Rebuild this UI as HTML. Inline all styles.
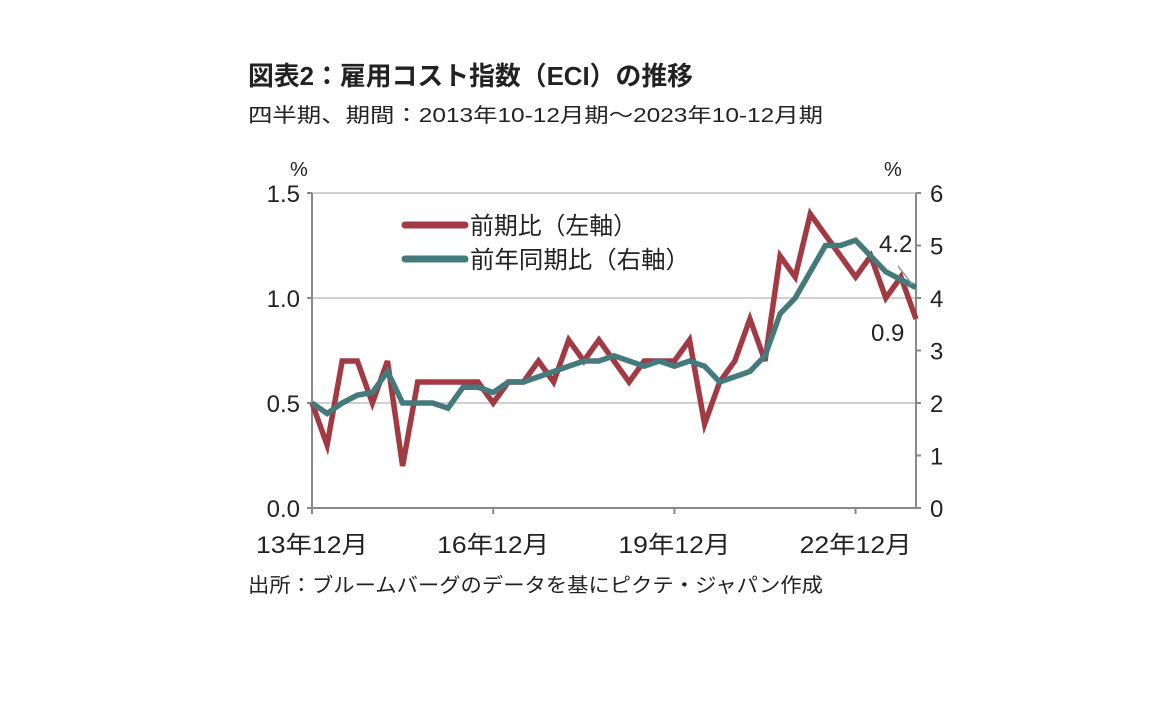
<!DOCTYPE html>
<html><head><meta charset="utf-8"><style>
body{margin:0;background:#fff;font-family:"Liberation Sans","Noto Sans CJK JP",sans-serif;}
svg text{font-family:"Liberation Sans","Noto Sans CJK JP",sans-serif;fill:#222;}
</style></head><body>
<svg id="c" width="1152" height="720">
<text x="248" y="85" font-size="26" font-weight="bold" textLength="445" lengthAdjust="spacingAndGlyphs">図表2：雇用コスト指数（ECI）の推移</text>
<text x="248" y="122" font-size="20" fill="#333" textLength="575" lengthAdjust="spacingAndGlyphs">四半期、期間：2013年10-12月期～2023年10-12月期</text>
<text x="248" y="592" font-size="20" textLength="575" lengthAdjust="spacingAndGlyphs">出所：ブルームバーグのデータを基にピクテ・ジャパン作成</text>
<g id="g"></g>
</svg>
<script>
const categories=["13年12月","16年12月","19年12月","22年12月"];
const categoryIdx=[0,12,24,36];
const leftTicks=[0.0,0.5,1.0,1.5];
const rightTicks=[0,1,2,3,4,5,6];
const qoq=[0.5,0.3,0.7,0.7,0.5,0.7,0.2,0.6,0.6,0.6,0.6,0.6,0.5,0.6,0.6,0.7,0.6,0.8,0.7,0.8,0.7,0.6,0.7,0.7,0.7,0.8,0.4,0.6,0.7,0.9,0.7,1.2,1.1,1.4,1.3,1.2,1.1,1.2,1.0,1.1,0.9];
const yoy=[2.0,1.8,2.0,2.15,2.2,2.6,2.0,2.0,2.0,1.9,2.3,2.3,2.2,2.4,2.4,2.5,2.6,2.7,2.8,2.8,2.9,2.8,2.7,2.8,2.7,2.8,2.7,2.4,2.5,2.6,2.9,3.7,4.0,4.5,5.0,5.0,5.1,4.8,4.5,4.35,4.2];
const x0=312,x1=916,yb=508,yt=193;
const X=i=>x0+(x1-x0)*i/(qoq.length-1);
const YL=v=>yb-(yb-yt)*v/1.5;
const YR=v=>yb-(yb-yt)*v/6;
const g=document.getElementById('g');
const NS='http://www.w3.org/2000/svg';
function mk(t,a,txt){const e=document.createElementNS(NS,t);for(const k in a)e.setAttribute(k,a[k]);if(txt!==undefined)e.textContent=txt;g.appendChild(e);return e;}
leftTicks.forEach(v=>{
 if(v>0){const l=mk('line',{x1:x0,x2:x1,y1:YL(v),y2:YL(v),stroke:'#d0d0d0','stroke-width':2});
 
 }
 const t=mk('text',{x:x0-12,y:YL(v)+9,'font-size':24,'text-anchor':'end'},v.toFixed(1));
 
 
 mk('line',{x1:x0-5,x2:x0,y1:YL(v),y2:YL(v),stroke:'#888','stroke-width':2});
});
rightTicks.forEach(v=>{
 const t=mk('text',{x:x1+14,y:YR(v)+9,'font-size':24},String(v));
 
 
 mk('line',{x1:x1,x2:x1+5,y1:YR(v),y2:YR(v),stroke:'#888','stroke-width':2});
});
mk('line',{x1:x0,x2:x0,y1:yt,y2:yb,stroke:'#888','stroke-width':2});
mk('line',{x1:x1,x2:x1,y1:yt,y2:yb,stroke:'#888','stroke-width':2});
mk('line',{x1:x0,x2:x1,y1:yb,y2:yb,stroke:'#888','stroke-width':2});
const pl=mk('text',{x:290,y:176,'font-size':20},'%');


const pr=mk('text',{x:884,y:176,'font-size':20},'%');


categories.forEach((c,k)=>{
 const x=X(categoryIdx[k]);
 mk('line',{x1:x,x2:x,y1:yb,y2:yb+6,stroke:'#888','stroke-width':2});
 const t=mk('text',{x:x-56,y:yb+45,'font-size':24,textLength:112,lengthAdjust:'spacingAndGlyphs'},c);
 
 
});
const r=mk('polyline',{points:qoq.map((v,i)=>X(i)+','+YL(v)).join(' '),fill:'none',stroke:'#a23a43','stroke-width':5.5,'stroke-linejoin':'miter'});


const b=mk('polyline',{points:yoy.map((v,i)=>X(i)+','+YR(v)).join(' '),fill:'none',stroke:'#457a7d','stroke-width':5.5});


mk('line',{x1:898,y1:266,x2:912,y2:284,stroke:'#999','stroke-width':1.5});
const a1=mk('text',{x:879,y:252,'font-size':24},yoy[yoy.length-1].toFixed(1));


const a2=mk('text',{x:871,y:341,'font-size':24},qoq[qoq.length-1].toFixed(1));


const lg1=mk('line',{x1:405,x2:465,y1:225,y2:225,stroke:'#a23a43','stroke-width':7,'stroke-linecap':'round'});


const lt1=mk('text',{x:470,y:234,'font-size':24,textLength:167,lengthAdjust:'spacingAndGlyphs'},'前期比（左軸）');


const lg2=mk('line',{x1:405,x2:465,y1:259,y2:259,stroke:'#457a7d','stroke-width':7,'stroke-linecap':'round'});


const lt2=mk('text',{x:470,y:268,'font-size':24,textLength:220,lengthAdjust:'spacingAndGlyphs'},'前年同期比（右軸）');


</script>
</body></html>
